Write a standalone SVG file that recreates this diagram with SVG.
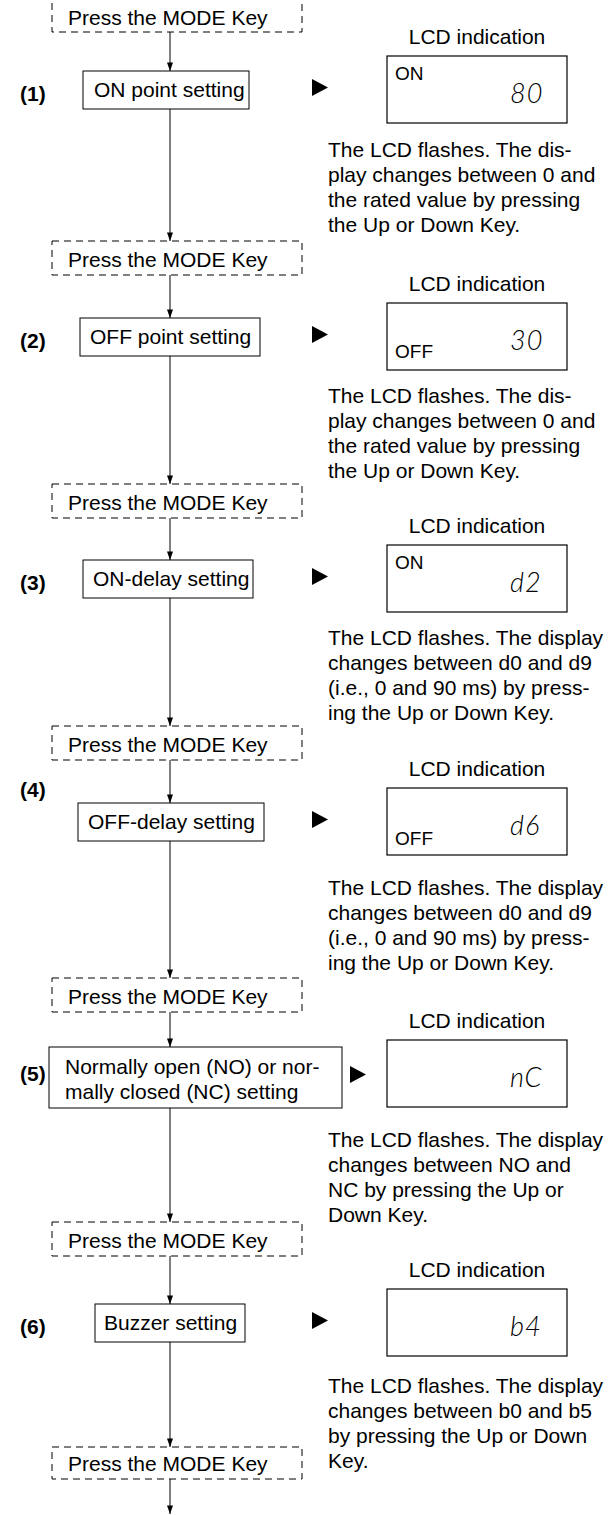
<svg xmlns="http://www.w3.org/2000/svg" width="610" height="1515" viewBox="0 0 610 1515">
  <defs>
    <marker id="ah" viewBox="0 0 10 7" refX="10" refY="3.5" markerWidth="9" markerHeight="6" markerUnits="userSpaceOnUse" orient="auto">
      <path d="M0,0 L10,3.5 L0,7 z" fill="#000"/>
    </marker>
    <style>
      .t{font-family:"Liberation Sans",Arial,sans-serif;font-size:21px;fill:#000}
      .lbl{font-weight:bold}
      .sm{font-size:19px}
      .hd{text-anchor:middle}
      .box{fill:#fff;stroke:#000;stroke-width:1}
      .dash{fill:none;stroke:#000;stroke-width:1;stroke-dasharray:7 5}
      .lcd{fill:#fff;stroke:#000;stroke-width:1.2}
      .seg{font-family:Lato,"Liberation Sans",sans-serif;font-weight:300;font-style:italic;font-size:27px;fill:#000;letter-spacing:1px}
      .conn{stroke:#000;stroke-width:1;fill:none}
      .ptr{fill:#000}
    </style>
  </defs>
  <rect width="610" height="1515" fill="#fff"/>

  <!-- vertical flow connectors -->
  <g id="connectors">
    <line class="conn" x1="170" y1="32" x2="170" y2="71" marker-end="url(#ah)"/>
    <line class="conn" x1="170" y1="109" x2="170" y2="241" marker-end="url(#ah)"/>
    <line class="conn" x1="170" y1="275" x2="170" y2="318" marker-end="url(#ah)"/>
    <line class="conn" x1="170" y1="356" x2="170" y2="484" marker-end="url(#ah)"/>
    <line class="conn" x1="170" y1="518" x2="170" y2="560" marker-end="url(#ah)"/>
    <line class="conn" x1="170" y1="598" x2="170" y2="726" marker-end="url(#ah)"/>
    <line class="conn" x1="170" y1="760" x2="170" y2="803" marker-end="url(#ah)"/>
    <line class="conn" x1="170" y1="841" x2="170" y2="978" marker-end="url(#ah)"/>
    <line class="conn" x1="170" y1="1012" x2="170" y2="1047" marker-end="url(#ah)"/>
    <line class="conn" x1="170" y1="1108" x2="170" y2="1222" marker-end="url(#ah)"/>
    <line class="conn" x1="170" y1="1256" x2="170" y2="1304" marker-end="url(#ah)"/>
    <line class="conn" x1="170" y1="1342" x2="170" y2="1447" marker-end="url(#ah)"/>
    <line class="conn" x1="170" y1="1479" x2="170" y2="1514" marker-end="url(#ah)"/>
  </g>

  <!-- pointers from each setting to its display -->
  <g id="pointers">
    <path class="ptr" d="M312,79 L328,87.5 L312,96 z"/>
    <path class="ptr" d="M312,326 L328,334.5 L312,343 z"/>
    <path class="ptr" d="M312,568 L328,576.5 L312,585 z"/>
    <path class="ptr" d="M312,811 L328,819.5 L312,828 z"/>
    <path class="ptr" d="M350,1066 L366,1074.5 L350,1083 z"/>
    <path class="ptr" d="M312,1312 L328,1320.5 L312,1329 z"/>
  </g>

  <!-- MODE key steps -->
  <g id="mode1"><rect class="dash" x="52" y="-10" width="250" height="42"/><text class="t" x="68" y="25">Press the MODE Key</text></g>
  <g id="mode2"><rect class="dash" x="52" y="241" width="250" height="34"/><text class="t" x="68" y="267">Press the MODE Key</text></g>
  <g id="mode3"><rect class="dash" x="52" y="484" width="250" height="34"/><text class="t" x="68" y="510">Press the MODE Key</text></g>
  <g id="mode4"><rect class="dash" x="52" y="726" width="250" height="34"/><text class="t" x="68" y="752">Press the MODE Key</text></g>
  <g id="mode5"><rect class="dash" x="52" y="978" width="250" height="34"/><text class="t" x="68" y="1004">Press the MODE Key</text></g>
  <g id="mode6"><rect class="dash" x="52" y="1222" width="250" height="34"/><text class="t" x="68" y="1248">Press the MODE Key</text></g>
  <g id="mode7"><rect class="dash" x="52" y="1447" width="250" height="32"/><text class="t" x="68" y="1471">Press the MODE Key</text></g>

  <!-- (1) ON point -->
  <g id="step1">
    <text class="t lbl" x="20" y="101">(1)</text>
    <rect class="box" x="83" y="71" width="166" height="38"/>
    <text class="t" x="94" y="97">ON point setting</text>
  </g>
  <g id="lcd1">
    <text class="t hd" x="477" y="44">LCD indication</text>
    <rect class="lcd" x="387" y="56" width="180" height="67"/>
    <text class="t sm" x="395" y="80">ON</text>
    <text class="seg" x="510" y="103">80</text>
    <text class="t" x="328"><tspan x="328" y="157">The LCD flashes. The dis-</tspan><tspan x="328" y="182">play changes between 0 and</tspan><tspan x="328" y="207">the rated value by pressing</tspan><tspan x="328" y="232">the Up or Down Key.</tspan></text>
  </g>

  <!-- (2) OFF point -->
  <g id="step2">
    <text class="t lbl" x="20" y="348">(2)</text>
    <rect class="box" x="80" y="318" width="180" height="38"/>
    <text class="t" x="90" y="344">OFF point setting</text>
  </g>
  <g id="lcd2">
    <text class="t hd" x="477" y="291">LCD indication</text>
    <rect class="lcd" x="387" y="303" width="180" height="67"/>
    <text class="t sm" x="395" y="358">OFF</text>
    <text class="seg" x="510" y="350">30</text>
    <text class="t" x="328"><tspan x="328" y="403">The LCD flashes. The dis-</tspan><tspan x="328" y="428">play changes between 0 and</tspan><tspan x="328" y="453">the rated value by pressing</tspan><tspan x="328" y="478">the Up or Down Key.</tspan></text>
  </g>

  <!-- (3) ON-delay -->
  <g id="step3">
    <text class="t lbl" x="20" y="590">(3)</text>
    <rect class="box" x="83" y="560" width="170" height="38"/>
    <text class="t" x="93" y="586">ON-delay setting</text>
  </g>
  <g id="lcd3">
    <text class="t hd" x="477" y="533">LCD indication</text>
    <rect class="lcd" x="387" y="545" width="180" height="67"/>
    <text class="t sm" x="395" y="569">ON</text>
    <text class="seg" x="510" y="592">d2</text>
    <text class="t" x="328"><tspan x="328" y="645">The LCD flashes. The display</tspan><tspan x="328" y="670">changes between d0 and d9</tspan><tspan x="328" y="695">(i.e., 0 and 90 ms) by press-</tspan><tspan x="328" y="720">ing the Up or Down Key.</tspan></text>
  </g>

  <!-- (4) OFF-delay -->
  <g id="step4">
    <text class="t lbl" x="20" y="797">(4)</text>
    <rect class="box" x="78" y="803" width="186" height="38"/>
    <text class="t" x="88" y="829">OFF-delay setting</text>
  </g>
  <g id="lcd4">
    <text class="t hd" x="477" y="776">LCD indication</text>
    <rect class="lcd" x="387" y="788" width="180" height="67"/>
    <text class="t sm" x="395" y="845">OFF</text>
    <text class="seg" x="510" y="835">d6</text>
    <text class="t" x="328"><tspan x="328" y="895">The LCD flashes. The display</tspan><tspan x="328" y="920">changes between d0 and d9</tspan><tspan x="328" y="945">(i.e., 0 and 90 ms) by press-</tspan><tspan x="328" y="970">ing the Up or Down Key.</tspan></text>
  </g>

  <!-- (5) NO / NC -->
  <g id="step5">
    <text class="t lbl" x="20" y="1081">(5)</text>
    <rect class="box" x="49" y="1047" width="293" height="61"/>
    <text class="t" x="65"><tspan x="65" y="1074">Normally open (NO) or nor-</tspan><tspan x="65" y="1099">mally closed (NC) setting</tspan></text>
  </g>
  <g id="lcd5">
    <text class="t hd" x="477" y="1028">LCD indication</text>
    <rect class="lcd" x="387" y="1040" width="180" height="67"/>
    <text class="seg" x="510" y="1087">nC</text>
    <text class="t" x="328"><tspan x="328" y="1147">The LCD flashes. The display</tspan><tspan x="328" y="1172">changes between NO and</tspan><tspan x="328" y="1197">NC by pressing the Up or</tspan><tspan x="328" y="1222">Down Key.</tspan></text>
  </g>

  <!-- (6) Buzzer -->
  <g id="step6">
    <text class="t lbl" x="20" y="1334">(6)</text>
    <rect class="box" x="95" y="1304" width="150" height="38"/>
    <text class="t" x="104" y="1330">Buzzer setting</text>
  </g>
  <g id="lcd6">
    <text class="t hd" x="477" y="1277">LCD indication</text>
    <rect class="lcd" x="387" y="1289" width="180" height="67"/>
    <text class="seg" x="510" y="1336">b4</text>
    <text class="t" x="328"><tspan x="328" y="1393">The LCD flashes. The display</tspan><tspan x="328" y="1418">changes between b0 and b5</tspan><tspan x="328" y="1443">by pressing the Up or Down</tspan><tspan x="328" y="1468">Key.</tspan></text>
  </g>
</svg>
